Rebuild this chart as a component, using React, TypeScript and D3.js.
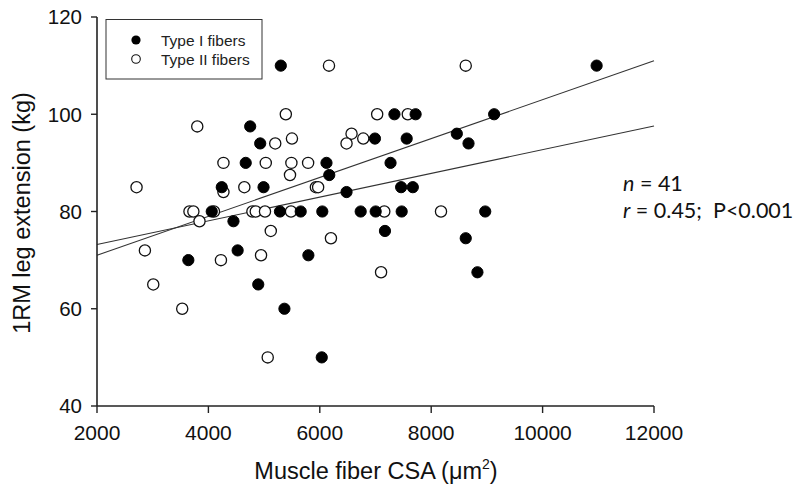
import React from "react";
import * as d3 from "d3";

const typeIX = [5300, 4750, 4930, 4670, 7340, 7720, 6990, 7560, 8460, 8670, 6120, 7270, 10970, 9130, 4240, 4990, 4060, 5285, 5657, 6045, 6734, 7003, 7470, 4450, 4525, 3640, 4895, 5365, 6170, 6480, 7460, 7670, 7170, 8620, 5795, 8830, 8970, 6035];
const typeIY = [110, 97.5, 94, 90, 100, 100, 95, 95, 96, 94, 90, 90, 110, 100, 85, 85, 80, 80, 80, 80, 80, 80, 80, 78, 72, 70, 65, 60, 87.5, 84, 85, 85, 76, 74.5, 71, 67.5, 80, 50];

const typeIIX = [5390, 3800, 5200, 5500, 4270, 5030, 5490, 6165, 8620, 7030, 7580, 6570, 6480, 6780, 5790, 5465, 2710, 4270, 4645, 3660, 3730, 4100, 3840, 4790, 4850, 5016, 5483, 7158, 8176, 5120, 2860, 4945, 4225, 3010, 3530, 5930, 5970, 6200, 7100, 5065];
const typeIIY = [100, 97.5, 94, 95, 90, 90, 90, 110, 110, 100, 100, 96, 94, 95, 90, 87.5, 85, 84, 85, 80, 80, 80, 78, 80, 80, 80, 80, 80, 80, 76, 72, 71, 70, 65, 60, 85, 85, 74.5, 67.5, 50];

const fitAX = [2000, 12000];
const fitAY = [73.2, 97.6];
const fitBX = [2000, 12000];
const fitBY = [71, 111];

const xTicks = [2000, 4000, 6000, 8000, 10000, 12000];
const yTicks = [40, 60, 80, 100, 120];

export default function App() {
  const W = 800, H = 498;
  const x = d3.scaleLinear().domain([2000, 12000]).range([97, 654]);
  const y = d3.scaleLinear().domain([40, 120]).range([406, 17]);
  const line = d3.line<[number, number]>().x(d => x(d[0])).y(d => y(d[1]));
  const axisColor = "#222";
  const font = "'Liberation Sans', Arial, sans-serif";
  const r = 5.6;
  return (
    <svg width={W} height={H} style={{ position: "absolute", left: 0, top: 0, background: "#fff" }}>
      <rect x={0} y={0} width={W} height={H} fill="#fff" />
      {/* regression lines */}
      <path d={line(fitAX.map((v, i) => [v, fitAY[i]]) as any) || ""} stroke="#333" strokeWidth={1.1} fill="none" />
      <path d={line(fitBX.map((v, i) => [v, fitBY[i]]) as any) || ""} stroke="#333" strokeWidth={1.1} fill="none" />
      {/* axes */}
      <line x1={x(2000)} x2={x(2000)} y1={y(120)} y2={y(40)} stroke={axisColor} strokeWidth={1.6} />
      <line x1={x(2000)} x2={x(12000)} y1={y(40)} y2={y(40)} stroke={axisColor} strokeWidth={1.6} />
      {yTicks.map(t => (
        <g key={"y" + t}>
          <line x1={x(2000) - 6} x2={x(2000)} y1={y(t)} y2={y(t)} stroke={axisColor} strokeWidth={1.4} />
          <text x={x(2000) - 15} y={y(t)} dy="0.36em" textAnchor="end" fontFamily={font} fontSize={20.5} fill="#111">{t}</text>
        </g>
      ))}
      {xTicks.map(t => (
        <g key={"x" + t}>
          <line x1={x(t)} x2={x(t)} y1={y(40)} y2={y(40) + 7} stroke={axisColor} strokeWidth={1.4} />
          <text x={x(t)} y={y(40) + 34} textAnchor="middle" fontFamily={font} fontSize={21} fill="#111">{t}</text>
        </g>
      ))}
      {/* axis titles */}
      <text x={376} y={479} textAnchor="middle" fontFamily={font} fontSize={23.5} fill="#111">
        Muscle fiber CSA (<tspan>μ</tspan>m<tspan dy="-10" fontSize={14}>2</tspan><tspan dy="10">)</tspan>
      </text>
      <text transform="translate(30,213) rotate(-90)" textAnchor="middle" fontFamily={font} fontSize={23.5} fill="#111">1RM leg extension (kg)</text>
      {/* points */}
      {typeIIX.map((v, i) => (
        <circle key={"o" + i} cx={x(v)} cy={y(typeIIY[i])} r={r} fill="#fff" stroke="#111" strokeWidth={1.3} />
      ))}
      {typeIX.map((v, i) => (
        <circle key={"f" + i} cx={x(v)} cy={y(typeIY[i])} r={r} fill="#000" stroke="#000" strokeWidth={1} />
      ))}
      {/* legend */}
      <rect x={106} y={19.5} width={156} height={59.5} fill="#fff" stroke="#333" strokeWidth={1} />
      <circle cx={136} cy={40} r={4.6} fill="#000" />
      <circle cx={136} cy={59} r={4.3} fill="#fff" stroke="#111" strokeWidth={1.1} />
      <text x={161} y={40} dy="0.36em" fontFamily={font} fontSize={15.5} fill="#222">Type I fibers</text>
      <text x={161} y={59} dy="0.36em" fontFamily={font} fontSize={15.5} fill="#222">Type II fibers</text>
      {/* annotation */}
      <text x={623} y={191} fontFamily="Lato, 'Open Sans', sans-serif" fontSize={21.5} fill="#111">
        <tspan fontStyle="italic">n</tspan> = 41
      </text>
      <text x={623} y={218} fontFamily="Lato, 'Open Sans', sans-serif" fontSize={21.5} fill="#111">
        <tspan fontStyle="italic">r</tspan> = 0.45;{"\u00a0\u00a0"}P&lt;0.001
      </text>
    </svg>
  );
}
